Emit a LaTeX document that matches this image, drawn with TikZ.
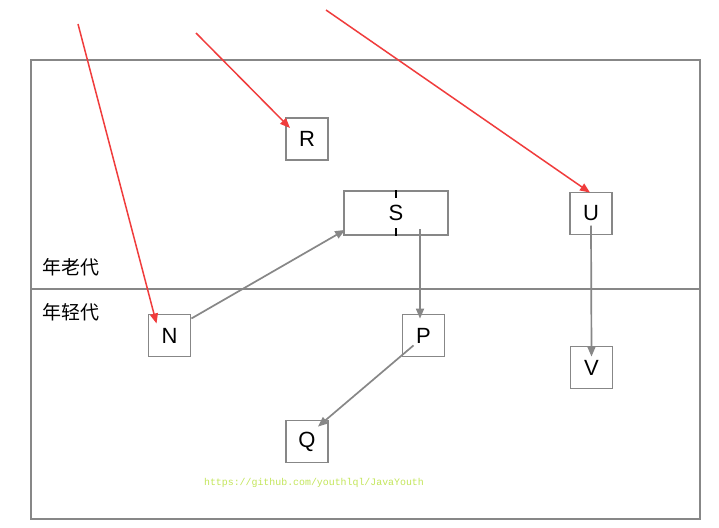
\documentclass[tikz,border=0pt]{standalone}
\usepackage{fontspec}
\setmainfont{Liberation Sans}
\newfontfamily\cjk{Noto Sans CJK SC}
\newfontfamily\monof{Liberation Mono}
\usetikzlibrary{arrows.meta}
\definecolor{boxgray}{RGB}{135,135,135}
\definecolor{arrred}{RGB}{240,60,60}
\definecolor{wmark}{RGB}{195,230,90}
\tikzset{
  objbox/.style={draw=boxgray, line width=1.8pt, minimum width=42pt, minimum height=42pt, inner sep=0pt, font=\fontsize{22}{22}\selectfont},
  widebox/.style={objbox, minimum width=104pt, minimum height=44pt},
  refarrow/.style={draw=arrred, line width=1.5pt, -{Triangle[length=10pt,width=8pt]}},
  ptrarrow/.style={draw=boxgray, line width=1.7pt, -{Triangle[length=10pt,width=8pt]}},
  genlabel/.style={font=\cjk\fontsize{19}{19}\selectfont, inner sep=0pt},
}
\begin{document}
\begin{tikzpicture}[x=1pt,y=-1pt]
\useasboundingbox (0,0) rectangle (719,527);
\fill[white] (0,0) rectangle (719,527);
% outer frame and divider
\draw[boxgray, line width=1.8pt] (31,60) rectangle (700,519);
\coordinate (divL) at (31,289);
\coordinate (divR) at (700,289);
\draw[boxgray, line width=1.8pt] (divL) -- (divR);
\node[genlabel] (old) at (71,267) {年老代};
\node[genlabel] (young) at (71,312) {年轻代};
% boxes
\node[objbox] (R) at (307,139) {R};
\node[widebox] (S) at (396,213) {};
\node[objbox] (U) at (591,213.5) {U};
\node[objbox] (N) at (169.5,335.5) {N};
\node[objbox] (P) at (423.5,335.5) {P};
\node[objbox] (V) at (591.5,367.5) {V};
\node[objbox] (Q) at (307,441.5) {Q};
% card marking dashed line
\draw[black, line width=2.6pt] (S.north) -- ++(0,8);
\draw[black, line width=2.6pt] (S.south) -- ++(0,-8);
\node[font=\fontsize{22}{22}\selectfont, inner sep=0pt] (Slab) at (S.center) {S};
% red roots
\coordinate (r1) at (78,24);
\coordinate (r2) at (196,33);
\coordinate (r3) at (326,10);
\draw[refarrow] (r1) -- ([shift={(-13,-12)}]N.center);
\draw[refarrow] (r2) -- ([shift={(-17,-11)}]R.center);
\draw[refarrow] (r3) -- ([shift={(-1,1)}]U.north);
% gray references
\draw[ptrarrow] ([shift={(0,-17)}]N.east) -- ([shift={(2,-6)}]S.south west);
\draw[ptrarrow] ([shift={(24,16)}]S.center) -- ([shift={(-3.5,5)}]P.north);
\draw[ptrarrow] ([shift={(-10,-12)}]P.south) -- ([shift={(11,7)}]Q.north);
\draw[ptrarrow] ([shift={(0,12)}]U.center) -- ([shift={(0,11)}]V.north);
% watermark
\node[font=\monof\fontsize{9.9}{9.9}\selectfont, text=wmark, inner sep=0pt] (wm) at (314,483) {https://github.com/youthlql/JavaYouth};
\end{tikzpicture}
\end{document}
